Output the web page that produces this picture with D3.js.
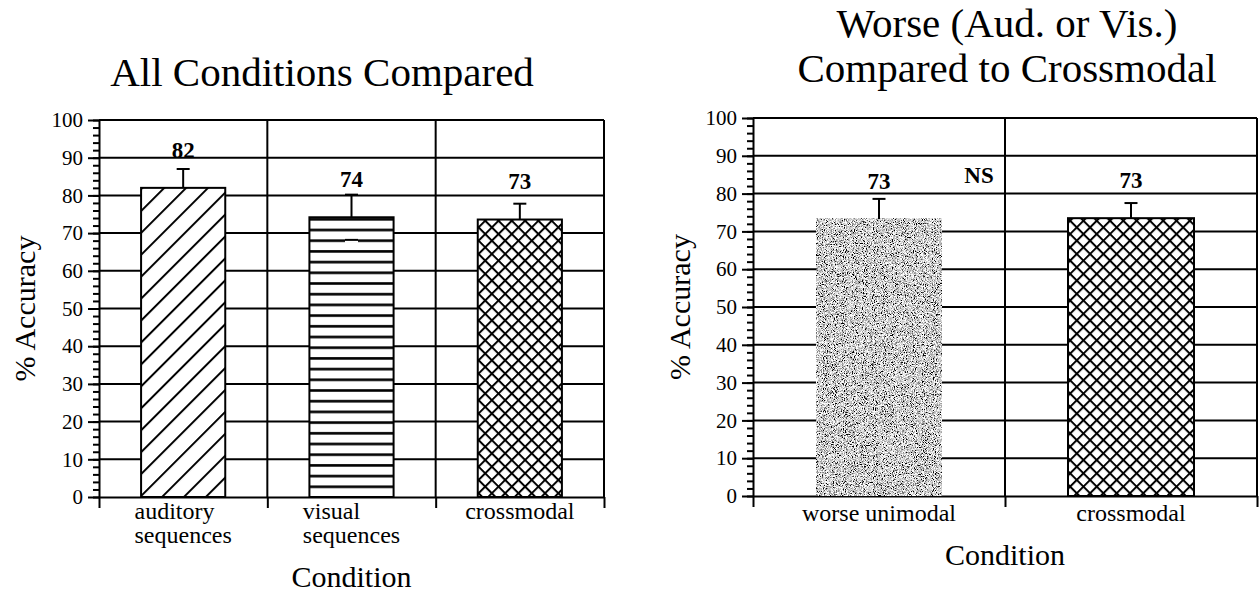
<!DOCTYPE html>
<html>
<head>
<meta charset="utf-8">
<title>Accuracy by condition</title>
<style>
  body { margin: 0; background: #fff; }
  text { font-family: "Liberation Serif", "Times New Roman", serif; fill: #000; }
  .axis path, .axis line { stroke: #000; stroke-width: 2; }
</style>
</head>
<body>
<script src="https://cdn.jsdelivr.net/npm/d3@7"></script>
<script>
// left panel
var leftCategories = [["auditory", "sequences"], ["visual", "sequences"], ["crossmodal"]];
var leftValues = [82, 74.2, 73.6];
var leftErrors = [5, 6, 4.2];
var leftLowerCaps = [false, true, false];
var leftLabels = ["82", "74", "73"];
var leftFills = ["diag", "stripes", "cross"];

// right panel
var rightCategories = [["worse unimodal"], ["crossmodal"]];
var rightValues = [73.3, 73.5];
var rightErrors = [5.3, 4];
var rightLowerCaps = [false, false];
var rightLabels = ["73", "73"];
var rightFills = ["noise", "cross"];

var yTicks = [0, 10, 20, 30, 40, 50, 60, 70, 80, 90, 100];
var yMinor = d3.range(0, 101, 2);

var width = 1259, height = 592;

var svg = d3.select("body").append("svg")
    .attr("width", width)
    .attr("height", height)
    .attr("font-family", "Liberation Serif");

var defs = svg.append("defs");

// hatch patterns
var diag = defs.append("pattern").attr("id", "diag")
    .attr("patternUnits", "userSpaceOnUse")
    .attr("width", 15.5).attr("height", 10)
    .attr("patternTransform", "rotate(45)");
diag.append("rect").attr("width", 15.5).attr("height", 10).attr("fill", "#fff");
diag.append("line").attr("x1", 1).attr("x2", 1).attr("y1", 0).attr("y2", 10)
    .attr("stroke", "#000").attr("stroke-width", 2);

var stripes = defs.append("pattern").attr("id", "stripes")
    .attr("patternUnits", "userSpaceOnUse")
    .attr("width", 10).attr("height", 10.7);
stripes.append("rect").attr("width", 10).attr("height", 10.7).attr("fill", "#fff");
stripes.append("rect").attr("y", 4).attr("width", 10).attr("height", 2.6).attr("fill", "#000");

var cross = defs.append("pattern").attr("id", "cross")
    .attr("patternUnits", "userSpaceOnUse")
    .attr("width", 9.4).attr("height", 9.4)
    .attr("patternTransform", "rotate(45)");
cross.append("rect").attr("width", 9.4).attr("height", 9.4).attr("fill", "#fff");
cross.append("line").attr("x1", 0).attr("x2", 9.4).attr("y1", 1).attr("y2", 1)
    .attr("stroke", "#000").attr("stroke-width", 2);
cross.append("line").attr("x1", 1).attr("x2", 1).attr("y1", 0).attr("y2", 9.4)
    .attr("stroke", "#000").attr("stroke-width", 2);

// speckled grey texture
var noise = defs.append("filter").attr("id", "noise")
    .attr("x", 0).attr("y", 0).attr("width", "100%").attr("height", "100%");
noise.append("feTurbulence")
    .attr("type", "fractalNoise")
    .attr("baseFrequency", 1.1)
    .attr("numOctaves", 2)
    .attr("seed", 4)
    .attr("result", "t");
noise.append("feColorMatrix")
    .attr("in", "t")
    .attr("type", "matrix")
    .attr("values", "3.2 0 0 0 -0.98  3.2 0 0 0 -0.98  3.2 0 0 0 -0.98  0 0 0 0 1");

var panels = [
    {
        categories: leftCategories, values: leftValues, errors: leftErrors,
        lowerCaps: leftLowerCaps, labels: leftLabels, fills: leftFills,
        x0: 99, x1: 604, yBottom: 497, yTop: 120,
        title: ["All Conditions Compared"], titleX: 322, titleY: [86],
        yLabelX: 35, xLabelY: 587, catY: 519, notes: []
    },
    {
        categories: rightCategories, values: rightValues, errors: rightErrors,
        lowerCaps: rightLowerCaps, labels: rightLabels, fills: rightFills,
        x0: 753, x1: 1257, yBottom: 496, yTop: 118,
        title: ["Worse (Aud. or Vis.)", "Compared to Crossmodal"], titleX: 1007, titleY: [37, 82],
        yLabelX: 690, xLabelY: 565, catY: 521,
        notes: [{ text: "NS", x: 979, y: 183 }]
    }
];

panels.forEach(drawPanel);

function drawPanel(p) {
    var g = svg.append("g");
    var idx = d3.range(p.values.length);

    var x = d3.scaleBand().domain(idx).range([p.x0, p.x1]).padding(0);
    var edge = d3.scaleLinear().domain([0, idx.length]).range([p.x0, p.x1]);
    var y = d3.scaleLinear().domain([0, 100]).range([p.yBottom, p.yTop]);

    // horizontal grid
    g.append("g").selectAll("line")
        .data(yTicks.slice(1))
        .enter().append("line")
        .attr("x1", p.x0).attr("x2", p.x1)
        .attr("y1", y).attr("y2", y)
        .attr("stroke", "#000").attr("stroke-width", 2);

    // vertical separators
    g.append("g").selectAll("line")
        .data(d3.range(1, idx.length + 1))
        .enter().append("line")
        .attr("x1", edge).attr("x2", edge)
        .attr("y1", y(0)).attr("y2", y(100))
        .attr("stroke", "#000").attr("stroke-width", 2);

    // bottom axis with ticks at band edges
    g.append("g").attr("class", "axis")
        .attr("transform", "translate(0," + y(0) + ")")
        .call(d3.axisBottom(edge).tickValues(d3.range(idx.length + 1))
            .tickSize(11).tickSizeOuter(0).tickFormat(""));

    // y axis
    g.append("g").attr("class", "axis")
        .attr("transform", "translate(" + p.x0 + ",0)")
        .call(d3.axisLeft(y).tickValues(yMinor).tickSize(6).tickFormat(""))
        .call(function (s) { s.select(".domain").remove(); });
    var ya = g.append("g").attr("class", "axis")
        .attr("transform", "translate(" + p.x0 + ",0)")
        .call(d3.axisLeft(y).tickValues(yTicks).tickSize(11).tickSizeOuter(0).tickPadding(5));
    ya.attr("font-size", 21).attr("font-family", "Liberation Serif");

    // bars
    var bw = x.bandwidth() / 2;
    g.append("g").selectAll("rect")
        .data(idx)
        .enter().append("rect")
        .attr("x", function (i) { return x(i) + x.bandwidth() / 2 - bw / 2; })
        .attr("y", function (i) { return y(p.values[i]); })
        .attr("width", bw)
        .attr("height", function (i) { return y(0) - y(p.values[i]); })
        .attr("fill", function (i) { return p.fills[i] === "noise" ? "#aaa" : "url(#" + p.fills[i] + ")"; })
        .attr("filter", function (i) { return p.fills[i] === "noise" ? "url(#noise)" : null; })
        .attr("stroke", function (i) { return p.fills[i] === "noise" ? "none" : "#000"; })
        .attr("stroke-width", 2);

    // error bars
    var eb = g.append("g").selectAll("g")
        .data(idx)
        .enter().append("g")
        .attr("stroke", "#000").attr("stroke-width", 2);
    eb.append("line")
        .attr("x1", function (i) { return x(i) + x.bandwidth() / 2; })
        .attr("x2", function (i) { return x(i) + x.bandwidth() / 2; })
        .attr("y1", function (i) { return y(p.values[i]); })
        .attr("y2", function (i) { return y(p.values[i] + p.errors[i]); });
    eb.append("line")
        .attr("x1", function (i) { return x(i) + x.bandwidth() / 2 - 6.5; })
        .attr("x2", function (i) { return x(i) + x.bandwidth() / 2 + 6.5; })
        .attr("y1", function (i) { return y(p.values[i] + p.errors[i]); })
        .attr("y2", function (i) { return y(p.values[i] + p.errors[i]); });
    eb.filter(function (i) { return p.lowerCaps[i]; }).append("line")
        .attr("x1", function (i) { return x(i) + x.bandwidth() / 2 - 6.5; })
        .attr("x2", function (i) { return x(i) + x.bandwidth() / 2 + 6.5; })
        .attr("y1", function (i) { return y(p.values[i] - p.errors[i]); })
        .attr("y2", function (i) { return y(p.values[i] - p.errors[i]); })
        .attr("stroke", "#fff").attr("stroke-width", 6);
    eb.filter(function (i) { return p.lowerCaps[i]; }).append("line")
        .attr("x1", function (i) { return x(i) + x.bandwidth() / 2 - 6.5; })
        .attr("x2", function (i) { return x(i) + x.bandwidth() / 2 + 6.5; })
        .attr("y1", function (i) { return y(p.values[i] - p.errors[i]); })
        .attr("y2", function (i) { return y(p.values[i] - p.errors[i]); });

    // value labels
    g.append("g").selectAll("text")
        .data(idx)
        .enter().append("text")
        .attr("x", function (i) { return x(i) + x.bandwidth() / 2; })
        .attr("y", function (i) { return y(p.values[i] + 8); })
        .attr("text-anchor", "middle")
        .attr("font-size", 23)
        .attr("font-weight", "bold")
        .text(function (i) { return p.labels[i]; });

    p.notes.forEach(function (n) {
        g.append("text")
            .attr("x", n.x).attr("y", n.y)
            .attr("text-anchor", "middle")
            .attr("font-size", 23).attr("font-weight", "bold")
            .text(n.text);
    });

    // category labels: left-aligned block centred under each band
    idx.forEach(function (i) {
        var t = g.append("text").attr("font-size", 24);
        var spans = t.selectAll("tspan")
            .data(p.categories[i])
            .enter().append("tspan")
            .attr("dy", function (d, k) { return k === 0 ? 0 : 24; })
            .text(function (d) { return d; });
        var maxW = 0;
        spans.each(function () { maxW = Math.max(maxW, this.getComputedTextLength()); });
        var left = x(i) + x.bandwidth() / 2 - maxW / 2;
        t.attr("y", p.catY);
        spans.attr("x", left);
    });

    // axis titles
    g.append("text")
        .attr("x", (p.x0 + p.x1) / 2)
        .attr("y", p.xLabelY)
        .attr("text-anchor", "middle")
        .attr("font-size", 30)
        .text("Condition");

    g.append("text")
        .attr("transform", "translate(" + p.yLabelX + "," + (p.yBottom + p.yTop) / 2 + ") rotate(-90)")
        .attr("text-anchor", "middle")
        .attr("font-size", 30)
        .text("% Accuracy");

    // chart title
    g.append("g").selectAll("text")
        .data(p.title)
        .enter().append("text")
        .attr("x", p.titleX)
        .attr("y", function (d, k) { return p.titleY[k]; })
        .attr("text-anchor", "middle")
        .attr("font-size", 41)
        .text(function (d) { return d; });
}
</script>
</body>
</html>
